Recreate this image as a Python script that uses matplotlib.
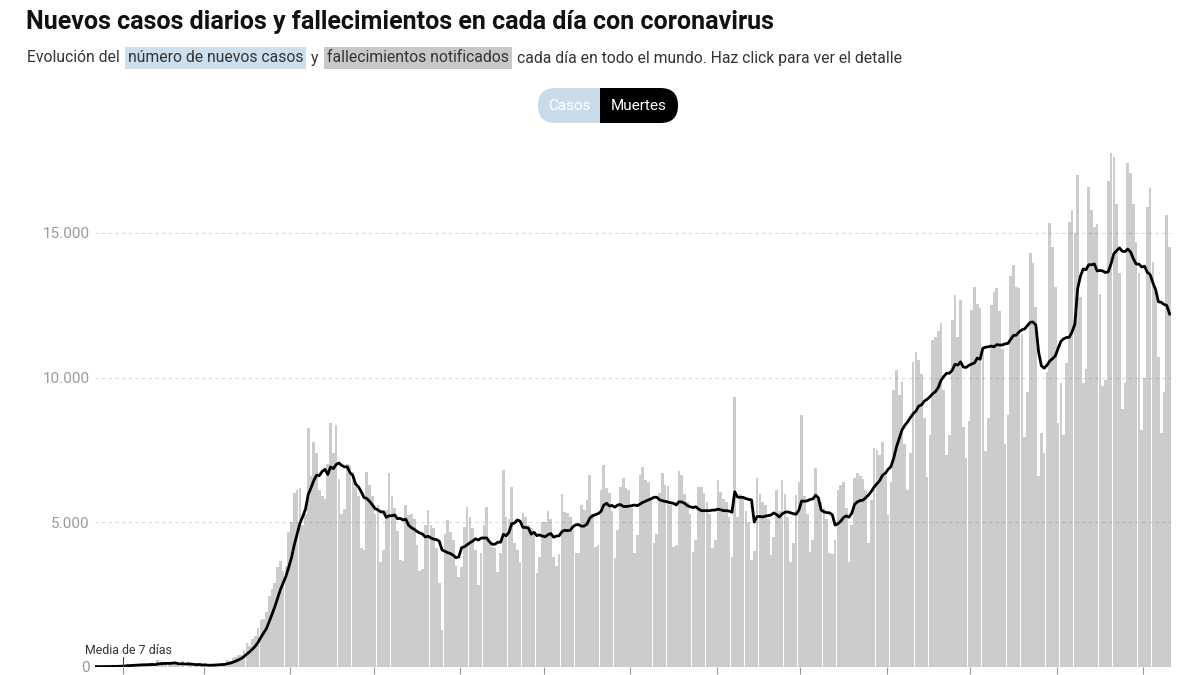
import numpy as np
import pandas as pd
import matplotlib
matplotlib.use("Agg")
import matplotlib.pyplot as plt
from matplotlib.patches import FancyBboxPatch, Rectangle

plt.rcParams['font.family'] = ['Roboto', 'DejaVu Sans']

# fallecimientos diarios (lectura aproximada del gráfico), desde el 22 de enero de 2020
start_date = "2020-01-22"
jan20 = [17, 8, 16, 14, 26, 26, 49, 2, 38, 42]
feb20 = [46, 103, 64, 66, 72, 70, 85, 87, 100, 107, 100, 5, 253, 152, 143, 104, 98, 139, 115, 125,
         4, 207, 11, 160, 80, 62, 44, 58, 69]
mar20 = [56, 67, 74, 84, 98, 106, 103, 102, 232, 200, 322, 359, 418, 425, 580, 844, 740, 970, 1064, 1351,
         1627, 1652, 1889, 2450, 2700, 2900, 3450, 3650, 3300, 3500, 4650]
apr20 = [5000, 6000, 6100, 6200, 4900, 5300, 8250, 6600, 7780, 7380, 6100, 5900, 5800, 7000, 8420,
         7380, 8360, 6500, 5300, 5450, 7000, 6980, 6750, 6230, 5900, 4100, 4040, 6750, 6300, 5900]
may20 = [5300, 5600, 3630, 4040, 5420, 6690, 5900, 5500, 4700, 3700, 3650, 5600, 5250, 5300, 5100,
         4200, 3300, 3400, 4900, 5420, 4900, 4800, 4100, 2900, 1280, 4600, 5080, 4680, 4390, 3500, 3120]
jun20 = [3470, 4850, 5540, 5190, 4790, 4040, 2830, 3930, 4900, 5540, 4270, 4150, 4100, 3290, 3930,
         6810, 5190, 5100, 6230, 4270, 4040, 3630, 5310, 5190, 4900, 4800, 4700, 3240, 3810, 5020]
jul20 = [5020, 5400, 5100, 3810, 3500, 3900, 5990, 5370, 5310, 5190, 4700, 3930, 3950, 5600, 5420,
         5770, 6630, 5300, 4160, 4210, 6110, 6980, 6200, 6000, 5400, 3760, 4730, 6230, 6520, 6170, 6100]
aug20 = [5500, 3930, 4560, 6630, 6920, 6460, 6400, 5800, 4270, 4600, 6000, 6690, 6300, 6250, 5600,
         4160, 4200, 6770, 6630, 5990, 5700, 5300, 3980, 4380, 6230, 6230, 6000, 5700, 5300, 4100, 4400]
sep20 = [6460, 6060, 5800, 5700, 5200, 3810, 9340, 5200, 5980, 5800, 5400, 5000, 3690, 4000, 6520,
         5990, 5700, 5600, 5100, 3860, 4500, 6110, 5400, 6460, 5990, 5200, 3640, 4300, 5940, 6400]
oct20 = [8710, 5900, 5300, 3980, 4400, 6860, 5800, 5700, 5500, 5100, 3930, 3900, 4400, 6110, 6300,
         6400, 5500, 3640, 4890, 6520, 6700, 6600, 6500, 6100, 4300, 5770, 7560, 7500, 7330, 7790, 6600]
nov20 = [5250, 6400, 9570, 10250, 9400, 9860, 7700, 6120, 7390, 10550, 10900, 10600, 10140, 8600, 6570,
         8000, 11290, 11400, 11600, 11870, 9560, 7330, 8000, 12000, 12850, 11400, 12680, 8300, 7220, 8500]
dec20 = [12330, 13130, 12560, 12400, 10980, 7450, 8600, 12500, 12970, 13080, 12300, 11000, 7720, 8700,
         13500, 13900, 13130, 13100, 11500, 7950, 9500, 14300, 13950, 12450, 6600, 8100, 7380, 10200,
         15330, 14500, 13140]
jan21 = [8420, 9800, 8000, 10500, 15390, 15800, 15000, 17000, 12800, 9800, 10300, 16600, 15800, 15200,
         15300, 12900, 9700, 9900, 16800, 17750, 17630, 16000, 13600, 8900, 9800, 17400, 17060, 16000,
         14700, 13600, 8190]
feb21 = [10000, 15900, 16540, 14000, 13000, 10700, 8070, 9500, 15610, 14500]

y_ticks = [0, 5000, 10000, 15000]
y_tick_labels = ["0", "5.000", "10.000", "15.000"]

title = "Nuevos casos diarios y fallecimientos en cada día con coronavirus"
subtitle = [("Evolución del", None),
            ("número de nuevos casos", "#cddfed"),
            ("y", None),
            ("fallecimientos notificados", "#c8c8c8"),
            ("cada día en todo el mundo. Haz click para ver el detalle", None)]

deaths = np.array(jan20 + feb20 + mar20 + apr20 + may20 + jun20 + jul20 + aug20 +
                  sep20 + oct20 + nov20 + dec20 + jan21 + feb21)
dates = pd.date_range(start_date, periods=len(deaths), freq="D")
pos = np.arange(len(deaths))
media = pd.Series(deaths).rolling(7, min_periods=1).mean()
month_pos = pos[dates.day == 1] - 0.5

fig = plt.figure(figsize=(12, 6.75), dpi=100)

# capa de fondo en pixeles para título, subtítulo y botones
bg = fig.add_axes([0, 0, 1, 1])
bg.set_xlim(0, 1200)
bg.set_ylim(675, 0)
bg.axis("off")

bg.text(26, 22, title, fontsize=18, fontweight="bold", color="#111111", va="center")

renderer = fig.canvas.get_renderer()
x = 27
for txt, col in subtitle:
    if col:
        t = bg.text(x + 3, 58, txt, fontsize=11.3, color="#333333", va="center",
                    bbox=dict(boxstyle="square,pad=0.2", fc=col, ec="none"))
        x += 3
    else:
        t = bg.text(x, 58, txt, fontsize=11.3, color="#333333", va="center")
    w = t.get_window_extent(renderer).width
    x += w + (3 if col else 0) + 5

# botón Casos / Muertes
bg.add_patch(FancyBboxPatch((560, 88), 118, 35, boxstyle="round,pad=0,rounding_size=17.5",
                            fc="black", ec="none"))
bg.add_patch(FancyBboxPatch((538, 88), 82, 35, boxstyle="round,pad=0,rounding_size=17.5",
                            fc="#c9dbe9", ec="none"))
bg.add_patch(Rectangle((600, 88), 25, 35, fc="black", ec="none"))
bg.text(569, 105.5, "Casos", fontsize=11, color="white", ha="center", va="center")
bg.text(639, 105.5, "Muertes", fontsize=11, color="white", ha="center", va="center")

# gráfico principal
ax = fig.add_axes([95 / 1200, 8 / 675, 1076 / 1200, 535.4 / 675])
ax.patch.set_alpha(0)
ax.bar(pos, deaths, width=0.95, color="#cccccc", linewidth=0, zorder=2)
ax.plot(pos, media, color="black", lw=2, zorder=4, solid_joinstyle="round")
ax.set_xlim(-0.5, len(deaths) - 0.5)
ax.set_ylim(0, 18500)

ax.set_yticks(y_ticks, y_tick_labels)
ax.grid(axis="y", color="black", alpha=0.14, linestyle=(0, (3, 3)), lw=0.8, zorder=3)
ax.set_axisbelow(False)
ax.tick_params(axis="y", length=0, pad=4, labelsize=11, labelcolor="#9a9a9a")
ax.set_xticks(month_pos)
ax.tick_params(axis="x", length=5, width=0.8, color="#999999", labelbottom=False)
for s in ax.spines.values():
    s.set_visible(False)

ax.text(-4.2, 560, "Media de 7 días", fontsize=8.9, color="#333333", va="center", clip_on=False)
ax.plot([month_pos[0], month_pos[0]], [0, 350], color="#444444", lw=0.8, zorder=5)

fig.savefig("out.png", dpi=100)
